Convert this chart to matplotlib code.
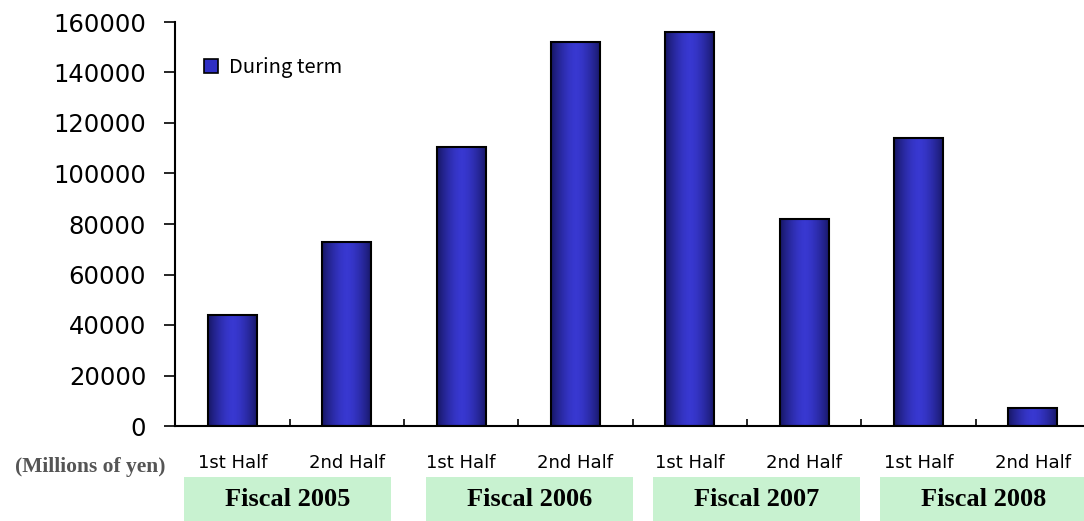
import matplotlib
matplotlib.use("Agg")
from matplotlib import pyplot as plt
from matplotlib.patches import Patch, Rectangle
import numpy as np

# chart data
halves = ["1st Half", "2nd Half", "1st Half", "2nd Half",
          "1st Half", "2nd Half", "1st Half", "2nd Half"]
values = [44000, 73000, 110500, 152000, 156000, 82000, 114000, 7000]
fiscal_years = ["Fiscal 2005", "Fiscal 2006", "Fiscal 2007", "Fiscal 2008"]
series_name = "During term"
unit_label = "(Millions of yen)"

W, H = 1084, 521
fig = plt.figure(figsize=(W / 100, H / 100), dpi=100)
ax = fig.add_axes([175.3 / W, 1 - 426 / H, (1090 - 175.3) / W, (426 - 22) / H])

x = np.arange(len(values))
bars = ax.bar(x, values, width=0.43, facecolor="none", edgecolor="black", linewidth=1.5, zorder=3)

# horizontal gradient inside each bar (dark edges, light centre)
t = np.linspace(-1, 1, 64)
shade = 1 - np.abs(t) ** 1.6
dark = np.array([0.09, 0.09, 0.40])
light = np.array([0.22, 0.22, 0.82])
grad = dark[None, :] + (light - dark)[None, :] * shade[:, None]
grad = grad[None, :, :]
for b in bars:
    im = ax.imshow(grad, extent=[b.get_x(), b.get_x() + b.get_width(), 0, b.get_height()],
                   aspect="auto", zorder=2, interpolation="bilinear")
    im.set_clip_path(b)

ax.set_xlim(-0.5, 7.5)
ax.set_ylim(0, 160000)
ax.set_yticks(np.arange(0, 160001, 20000))
ax.tick_params(axis="y", direction="out", length=8, width=1.2, labelsize=17.5, pad=13)
for lbl in ax.get_yticklabels():
    lbl.set_family("DejaVu Sans")

# boundaries as inward ticks, labels at bar centres
ax.set_xticks(np.arange(0.5, 7, 1))
ax.set_xticklabels([])
ax.tick_params(axis="x", which="major", direction="in", length=5, width=1.2)
ax.set_xticks(x, minor=True)
ax.set_xticklabels(halves, minor=True, family="DejaVu Sans", fontsize=13)
ax.tick_params(axis="x", which="minor", length=0, pad=20)

for s in ["top", "right"]:
    ax.spines[s].set_visible(False)
ax.spines["left"].set_linewidth(1.5)
ax.spines["bottom"].set_linewidth(1.5)

ax.legend(handles=[Patch(facecolor="#2f2fc4", edgecolor="black", linewidth=1.2, label=series_name)],
          loc="upper left", bbox_to_anchor=(0.012, 0.958), frameon=False,
          handlelength=0.7, handleheight=0.7, handletextpad=0.5,
          prop={"family": ["Noto Sans CJK JP", "DejaVu Sans"], "size": 14.5})

# fiscal year boxes below the axis (pixel positions)
box_left = [184, 426, 653, 880]
box_w, box_h = 207, 44
for left, fy in zip(box_left, fiscal_years):
    fig.add_artist(Rectangle((left / W, 0), box_w / W, box_h / H, transform=fig.transFigure,
                             facecolor="#c8f2d0", edgecolor="none"))
    fig.text((left + box_w / 2) / W, (box_h / 2 - 1) / H, fy, ha="center", va="center",
             family="Liberation Serif", fontweight="bold", fontsize=19)

fig.text(90 / W, 1 - 467 / H, unit_label, ha="center", va="center",
         family="Liberation Serif", fontweight="bold", fontsize=15.5, color="#555555")

fig.savefig("out.png", dpi=100)
